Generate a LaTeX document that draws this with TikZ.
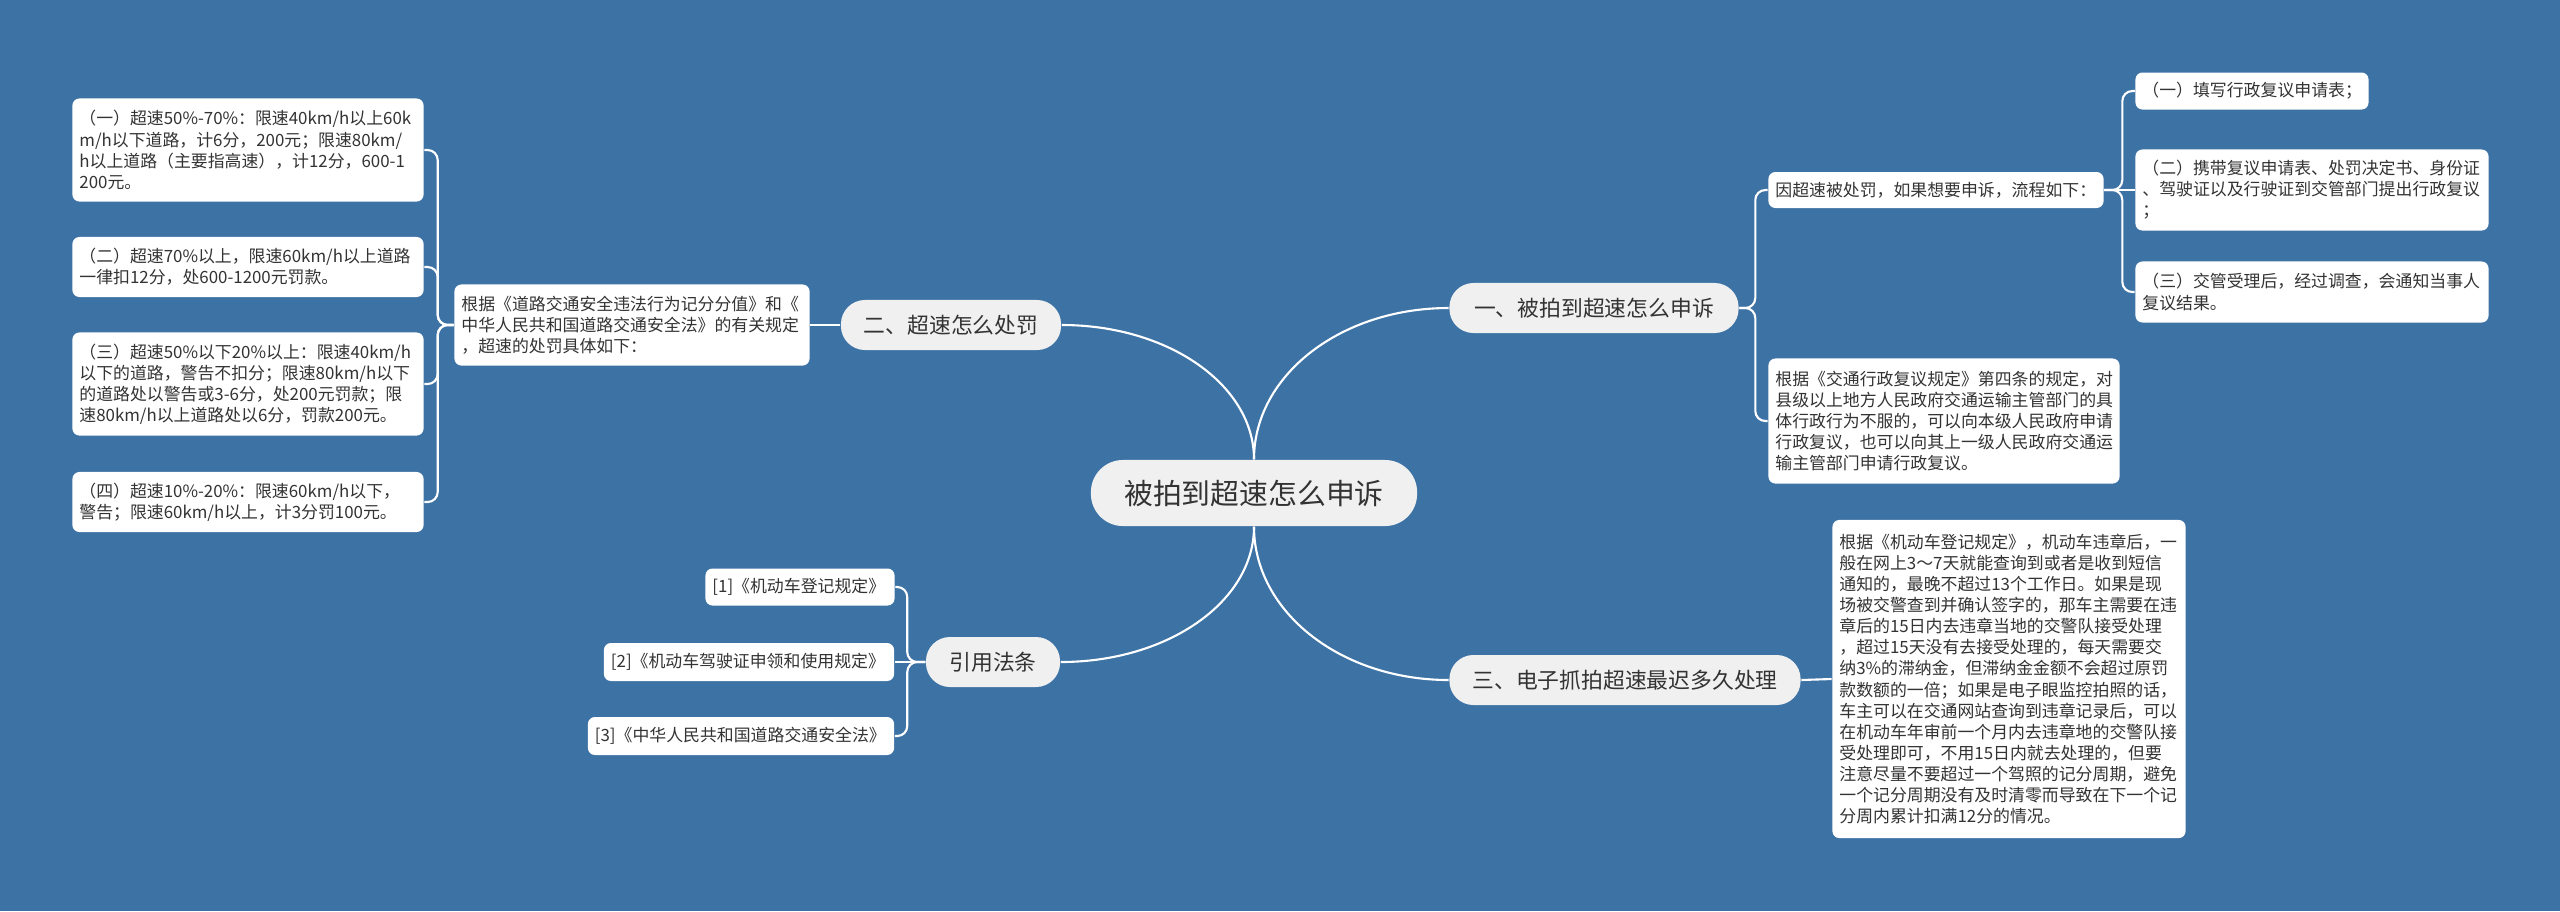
\documentclass[tikz,border=0pt]{standalone}
\usepackage{fontspec}
\setmainfont{Noto Sans CJK SC}
\usepackage{tikz}
\definecolor{bgblue}{HTML}{3D72A5}
\definecolor{pillgrey}{HTML}{F0F0F0}
\definecolor{inkgrey}{HTML}{333333}
\newcommand{\rootsize}{\fontsize{8.2pt}{9.8pt}\selectfont}
\newcommand{\topicsize}{\fontsize{6.2pt}{7.4pt}\selectfont}
\newcommand{\leafsize}{\fontsize{4.8pt}{6.0pt}\selectfont}
\tikzset{
  rootnode/.style={fill=pillgrey,text=inkgrey,font=\rootsize,rounded corners=0.32cm,minimum width=3.26cm,minimum height=0.66cm,inner sep=0pt},
  topic/.style={fill=pillgrey,text=inkgrey,font=\topicsize,rounded corners=0.24cm,minimum height=0.5cm,inner sep=0pt},
  leaf/.style={fill=white,text=inkgrey,font=\leafsize,rounded corners=0.07cm,align=left,inner xsep=0.07cm,inner ysep=0pt},
  link/.style={draw=white,line width=0.6pt},
  fork/.style={link,rounded corners=0.1cm}
}

\begin{document}
\begin{tikzpicture}[x=0.01cm,y=-0.01cm]
    \fill[bgblue] (0,0) rectangle (2560,911);
    \useasboundingbox (0,0) rectangle (2560,911);
    \node[rootnode] (root) at (1254,493) {被拍到超速怎么申诉};
    \node[topic,minimum width=2.89cm] (b1) at (1594,308) {一、被拍到超速怎么申诉};
    \node[topic,minimum width=2.2cm] (b2) at (951,325) {二、超速怎么处罚};
    \node[topic,minimum width=3.51cm] (b3) at (1625,680) {三、电子抓拍超速最迟多久处理};
    \node[topic,minimum width=1.34cm] (b4) at (993,662) {引用法条};
    \node[leaf,text width=3.21cm,minimum height=0.36cm] (appeal) at (1936,190) {因超速被处罚，如果想要申诉，流程如下：};
    \node[leaf,text width=3.37cm,minimum height=1.25cm] (law) at (1944,421) {根据《交通行政复议规定》第四条的规定，对\\县级以上地方人民政府交通运输主管部门的具\\体行政行为不服的，可以向本级人民政府申请\\行政复议，也可以向其上一级人民政府交通运\\输主管部门申请行政复议。};
    \node[leaf,text width=2.19cm,minimum height=0.37cm] (s1) at (2252,91) {（一）填写行政复议申请表；};
    \node[leaf,text width=3.39cm,minimum height=0.81cm] (s2) at (2312,190) {（二）携带复议申请表、处罚决定书、身份证\\、驾驶证以及行驶证到交管部门提出行政复议\\；};
    \node[leaf,text width=3.39cm,minimum height=0.61cm] (s3) at (2312,292) {（三）交管受理后，经过调查，会通知当事人\\复议结果。};
    \node[leaf,text width=3.41cm,minimum height=0.81cm] (rule) at (632,325) {根据《道路交通安全违法行为记分分值》和《\\中华人民共和国道路交通安全法》的有关规定\\，超速的处罚具体如下：};
    \node[leaf,text width=3.37cm,minimum height=1.03cm] (l1) at (248,150) {（一）超速50\%-70\%：限速40km/h以上60k\\m/h以下道路，计6分，200元；限速80km/\\h以上道路（主要指高速），计12分，600-1\\200元。};
    \node[leaf,text width=3.37cm,minimum height=0.6cm] (l2) at (248,267) {（二）超速70\%以上，限速60km/h以上道路\\一律扣12分，处600-1200元罚款。};
    \node[leaf,text width=3.37cm,minimum height=1.03cm] (l3) at (248,384) {（三）超速50\%以下20\%以上：限速40km/h\\以下的道路，警告不扣分；限速80km/h以下\\的道路处以警告或3-6分，处200元罚款；限\\速80km/h以上道路处以6分，罚款200元。};
    \node[leaf,text width=3.37cm,minimum height=0.6cm] (l4) at (248,502) {（四）超速10\%-20\%：限速60km/h以下，\\警告；限速60km/h以上，计3分罚100元。};
    \node[leaf,text width=3.39cm,minimum height=3.18cm] (late) at (2009,679) {根据《机动车登记规定》，机动车违章后，一\\般在网上3～7天就能查询到或者是收到短信\\通知的，最晚不超过13个工作日。如果是现\\场被交警查到并确认签字的，那车主需要在违\\章后的15日内去违章当地的交警队接受处理\\，超过15天没有去接受处理的，每天需要交\\纳3\%的滞纳金，但滞纳金金额不会超过原罚\\款数额的一倍；如果是电子眼监控拍照的话，\\车主可以在交通网站查询到违章记录后，可以\\在机动车年审前一个月内去违章地的交警队接\\受处理即可，不用15日内就去处理的，但要\\注意尽量不要超过一个驾照的记分周期，避免\\一个记分周期没有及时清零而导致在下一个记\\分周内累计扣满12分的情况。};
    \node[leaf,text width=1.75cm,minimum height=0.37cm] (ref1) at (800,587) {[1]《机动车登记规定》};
    \node[leaf,text width=2.76cm,minimum height=0.38cm] (ref2) at (749,662) {[2]《机动车驾驶证申领和使用规定》};
    \node[leaf,text width=2.92cm,minimum height=0.38cm] (ref3) at (741,736) {[3]《中华人民共和国道路交通安全法》};
    \draw[link] (root.north) .. controls +(0,-84) and +(-108,0) .. (b1.west);
    \draw[link] (root.north) .. controls +(0,-74) and +(107,0) .. (b2.east);
    \draw[link] (root.south) .. controls +(0,85) and +(-108,0) .. (b3.west);
    \draw[link] (root.south) .. controls +(0,75) and +(107,0) .. (b4.east);
    \draw[fork] (b1.east) -- ++(16,0) |- (appeal.west);
    \draw[fork] (b1.east) -- ++(16,0) |- (law.west);
    \draw[fork] (appeal.east) -- ++(18,0) |- (s1.west);
    \draw[link] (appeal.east) -- (s2.west);
    \draw[fork] (appeal.east) -- ++(18,0) |- (s3.west);
    \draw[link] (b2.west) -- (rule.east);
    \draw[fork] (rule.west) -- ++(-16,0) |- (l1.east);
    \draw[fork] (rule.west) -- ++(-16,0) |- (l2.east);
    \draw[fork] (rule.west) -- ++(-16,0) |- (l3.east);
    \draw[fork] (rule.west) -- ++(-16,0) |- (l4.east);
    \draw[link] (b3.east) -- (late.west);
    \draw[fork] (b4.west) -- ++(-18,0) |- (ref1.east);
    \draw[link] (b4.west) -- (ref2.east);
    \draw[fork] (b4.west) -- ++(-18,0) |- (ref3.east);
\end{tikzpicture}
\end{document}
